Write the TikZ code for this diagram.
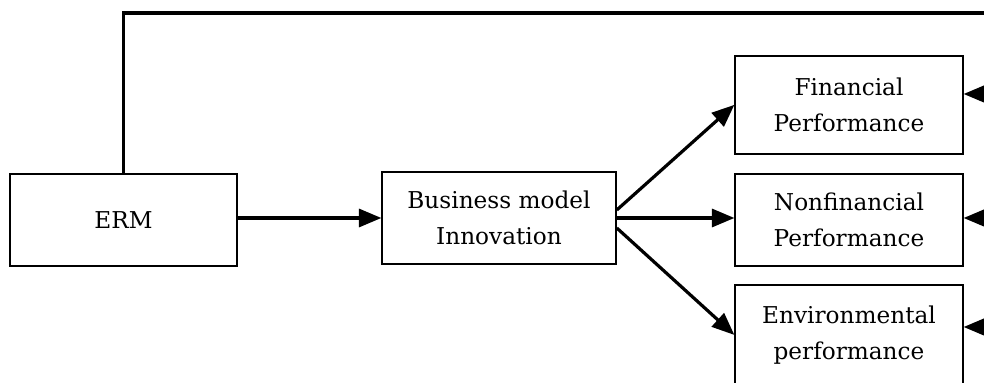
\documentclass[tikz,border=0pt]{standalone}
\usepackage{fontspec}
\setmainfont{DejaVu Serif}
\usetikzlibrary{arrows}

\tikzset{
 box/.style={draw, line width=0.8pt, align=center, inner sep=0pt, font=\fontsize{11.6}{18}\selectfont},
 link/.style={black, line width=1.6pt, ->, >=triangle 45}
}

\begin{document}
\begin{tikzpicture}[x=0.5pt, y=-0.5pt]
\useasboundingbox (0,0) rectangle (984,383);
% left part
\node[box, minimum width=113.5pt, minimum height=46pt] (erm) at (123.5,220) {ERM};
\node[box, minimum width=117pt, minimum height=46pt] (bmi) at (499,218) {Business model\\Innovation};
% outcome boxes
\node[box, minimum width=114pt, minimum height=49pt] (fin) at (849,105) {Financial\\Performance};
\node[box, minimum width=114pt, minimum height=46pt] (nonfin) at (849,220) {Nonfinancial\\Performance};
\node[box, minimum width=114pt, minimum height=50pt, anchor=north] (env) at (849,284) {Environmental\\performance};
\draw[link] (bmi.west -| erm.east) -- (bmi.west);
\draw[link] ([yshift=4pt]bmi.east) -- (fin.west);
\draw[link] (bmi.east) -- (bmi.east -| nonfin.west);
\draw[link] ([yshift=-5pt]bmi.east) -- (env.west);
% feedback from the right
\coordinate (top) at (984,13);
\coordinate (rf) at (984,94);
\coordinate (rn) at (984,218);
\coordinate (re) at (984,327);
\draw[black, line width=1.6pt] (erm.north) |- (top);
\draw[link] (rf) -- (rf -| fin.east);
\draw[link] (rn) -- (rn -| nonfin.east);
\draw[link] (re) -- (re -| env.east);
\end{tikzpicture}
\end{document}
